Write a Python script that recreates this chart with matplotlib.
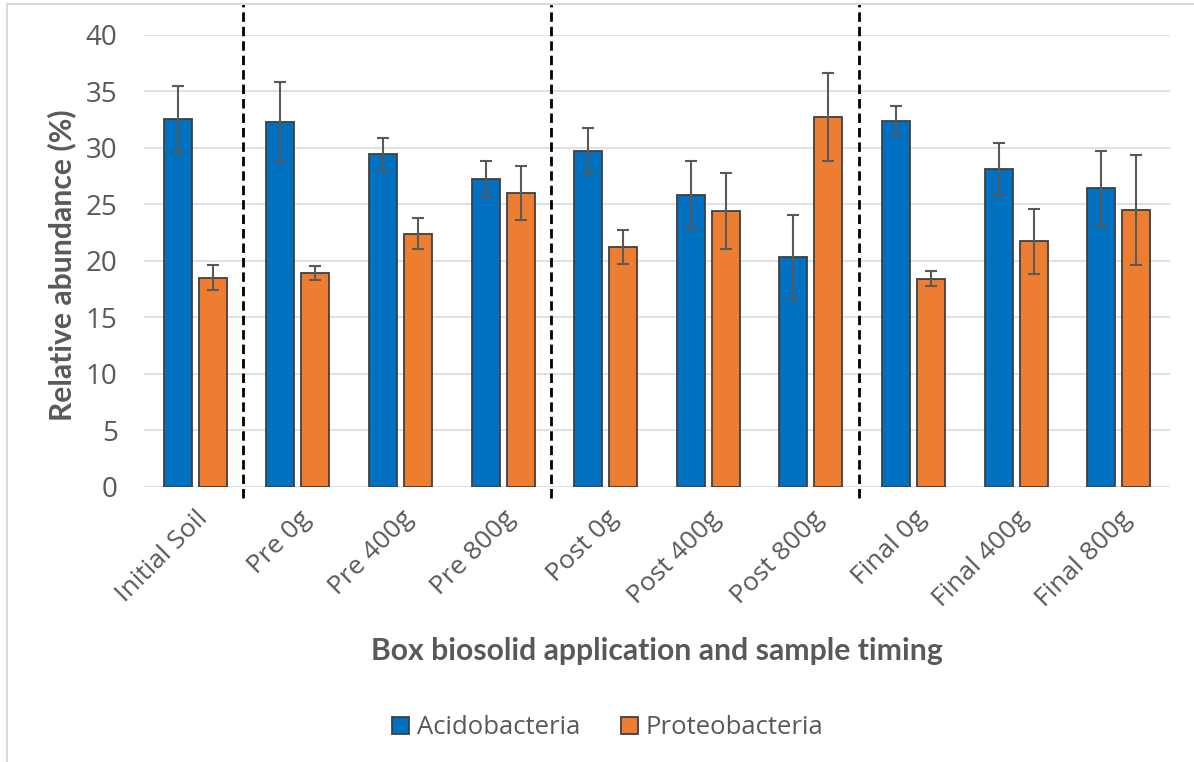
import matplotlib
matplotlib.use("Agg")
import matplotlib.pyplot as plt
from matplotlib.lines import Line2D
import numpy as np

# Sample groups and phylum abundances (mean ± error)
categories = ["Initial Soil", "Pre 0g", "Pre 400g", "Pre 800g", "Post 0g",
              "Post 400g", "Post 800g", "Final 0g", "Final 400g", "Final 800g"]
acido_mean = [32.5, 32.3, 29.4, 27.2, 29.7, 25.8, 20.3, 32.4, 28.1, 26.4]
acido_err = [3.0, 3.5, 1.5, 1.6, 2.0, 3.0, 3.7, 1.3, 2.3, 3.3]
proteo_mean = [18.5, 18.9, 22.4, 26.0, 21.2, 24.4, 32.7, 18.4, 21.7, 24.5]
proteo_err = [1.1, 0.65, 1.35, 2.4, 1.5, 3.4, 3.9, 0.65, 2.85, 4.85]
yticks = [0, 5, 10, 15, 20, 25, 30, 35, 40]

plt.rcParams["font.family"] = ["Open Sans", "DejaVu Sans"]
TITLE_FONT = ["Lato", "DejaVu Sans"]
TXT = "#595959"
BLUE = "#0070C0"
ORANGE = "#ED7D31"

fig = plt.figure(figsize=(11.94, 7.62), dpi=100)
ax = fig.add_axes([144 / 1194, 1 - 486.7 / 762, (1170 - 144) / 1194, (486.7 - 34.7) / 762])

x = np.arange(len(categories))
w = 0.273
off = 0.171
err_kw = dict(ecolor=TXT, elinewidth=1.5, capsize=4.3, capthick=1.5)
ax.bar(x - off, acido_mean, w, yerr=acido_err, color=BLUE, edgecolor="#404040",
       linewidth=1.3, label="Acidobacteria", error_kw=err_kw, zorder=3)
ax.bar(x + off, proteo_mean, w, yerr=proteo_err, color=ORANGE, edgecolor="#404040",
       linewidth=1.3, label="Proteobacteria", error_kw=err_kw, zorder=3)

ax.set_xlim(-0.5, len(categories) - 0.5)
ax.set_ylim(0, 40)
ax.set_yticks(yticks)
ax.yaxis.grid(True, color="#D9D9D9", linewidth=1.1, zorder=0)
ax.set_axisbelow(True)
for s in ax.spines.values():
    s.set_visible(False)
ax.tick_params(axis="both", length=0, colors=TXT)
ax.tick_params(axis="y", labelsize=20, pad=19)
ax.set_xticks(x)
ax.set_xticklabels(categories, rotation=45, ha="right", rotation_mode="anchor",
                   fontsize=19, color=TXT)
ax.tick_params(axis="x", pad=14)

# Phase separators
for xs in [0.465, 3.465, 6.465]:
    ax.plot([xs, xs], [-1.0, 42.7], color="black", linewidth=2.0,
            linestyle=(0, (3.4, 1.8)), clip_on=False, zorder=4)

fig.text(62 / 1194, 1 - 265 / 762, "Relative abundance (%)", family=TITLE_FONT,
         fontsize=21.7, fontweight="bold", color=TXT, rotation=90,
         ha="center", va="center")
fig.text((144 + 1170) / 2 / 1194, 1 - 651 / 762,
         "Box biosolid application and sample timing", family=TITLE_FONT,
         fontsize=21.7, fontweight="bold", color=TXT, ha="center", va="center")

leg = fig.legend(loc="center", bbox_to_anchor=(0.509, 1 - 728 / 762), ncol=2,
                 frameon=False, fontsize=18.5, handlelength=0.65, handleheight=0.65,
                 handletextpad=0.3, columnspacing=1.6)
for t in leg.get_texts():
    t.set_color(TXT)

# Outer chart frame
fig.add_artist(Line2D([6.5 / 1194, 1.0], [1 - 3.5 / 762] * 2, transform=fig.transFigure,
                      color="#D9D9D9", linewidth=1.5))
fig.add_artist(Line2D([6.5 / 1194] * 2, [0, 1 - 3.5 / 762], transform=fig.transFigure,
                      color="#D9D9D9", linewidth=1.5))

fig.savefig("out.png", dpi=100)
